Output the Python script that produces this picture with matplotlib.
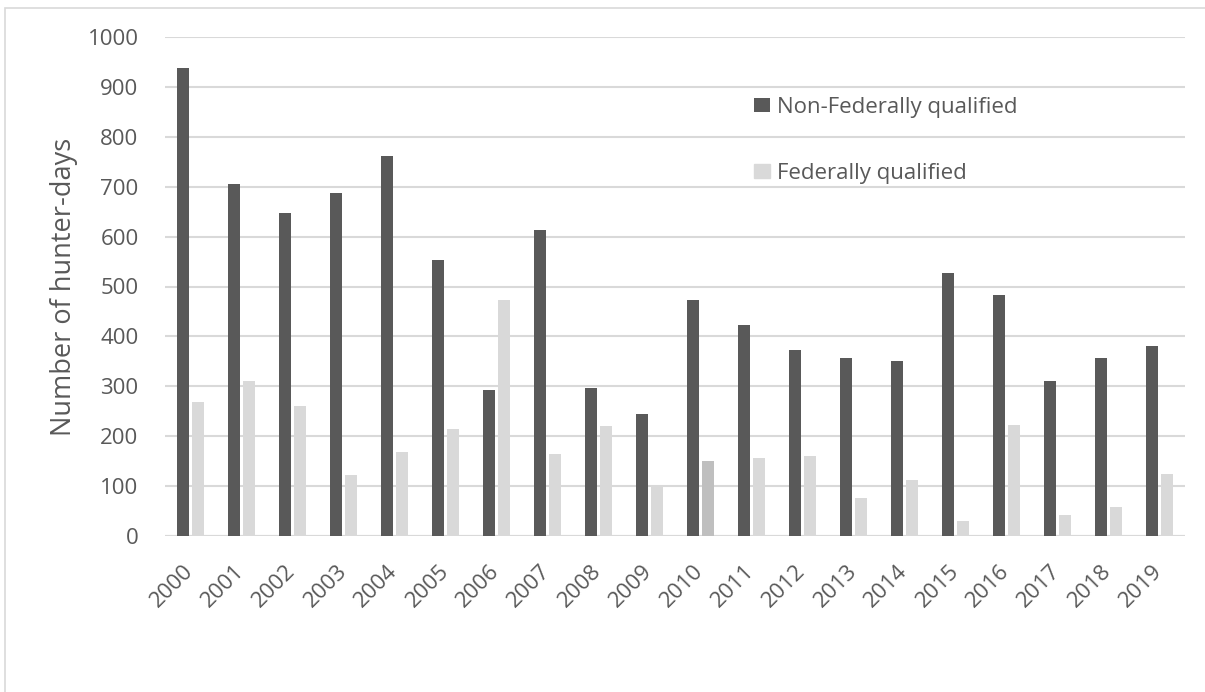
import matplotlib
matplotlib.use("Agg")
import matplotlib.pyplot as plt
import numpy as np
from matplotlib.patches import Rectangle

years = [str(y) for y in range(2000, 2020)]
non_federal = [937, 706, 647, 688, 762, 554, 292, 613, 297, 244,
               473, 423, 372, 357, 351, 528, 482, 310, 357, 380]
federal = [269, 310, 261, 122, 169, 215, 473, 164, 221, 100,
           150, 156, 161, 77, 112, 31, 223, 43, 58, 125]
series_labels = ["Non-Federally qualified", "Federally qualified"]
yticks = [0, 100, 200, 300, 400, 500, 600, 700, 800, 900, 1000]

plt.rcParams['font.family'] = ['Open Sans', 'DejaVu Sans']
W, H = 1205, 692
fig = plt.figure(figsize=(W / 100, H / 100), dpi=100)
fig.patches.append(Rectangle((5 / W, -0.1), 1.1, 1.1 - 8 / H,
                             transform=fig.transFigure, fill=False,
                             edgecolor='#d9d9d9', linewidth=1.2))
ax = fig.add_axes([165 / W, 1 - 536 / H, (1185 - 165) / W, (536 - 37) / H])

x = np.arange(len(years))
dark = '#595959'
light = '#d9d9d9'
fed_colors = [light] * len(years)
fed_colors[years.index('2010')] = '#bfbfbf'
ax.bar(x - 0.14, non_federal, width=0.23, color=dark, label=series_labels[0], zorder=3)
ax.bar(x + 0.14, federal, width=0.23, color=fed_colors, label=series_labels[1], zorder=3)

ax.set_xlim(-0.5, len(years) - 0.5)
ax.set_ylim(0, 1000)
ax.set_yticks(yticks)
ax.yaxis.grid(True, color='#d9d9d9', linewidth=1.5, zorder=0)
ax.set_axisbelow(True)
for s in ax.spines.values():
    s.set_visible(False)
ax.axhline(0, color='#d9d9d9', linewidth=1.5, zorder=2)
ax.set_xticks(x)
ax.set_xticklabels(years, rotation=45, ha='right', va='center', rotation_mode='anchor')
ax.tick_params(axis='both', length=0, labelsize=16, labelcolor='#595959')
ax.tick_params(axis='x', pad=23)
ax.tick_params(axis='y', pad=19)
ax.set_ylabel("Number of hunter-days", fontsize=19.5, color='#595959', labelpad=7)

leg = ax.legend(loc='upper left', bbox_to_anchor=(743 / W, 1 - 86 / H),
                bbox_transform=fig.transFigure, frameon=False, fontsize=16,
                labelcolor='#595959', handlelength=0.72, handleheight=0.62,
                handletextpad=0.3, labelspacing=2.0, borderpad=0)
leg.legend_handles[1].set_color(light)

fig.savefig("out.png", dpi=100)
